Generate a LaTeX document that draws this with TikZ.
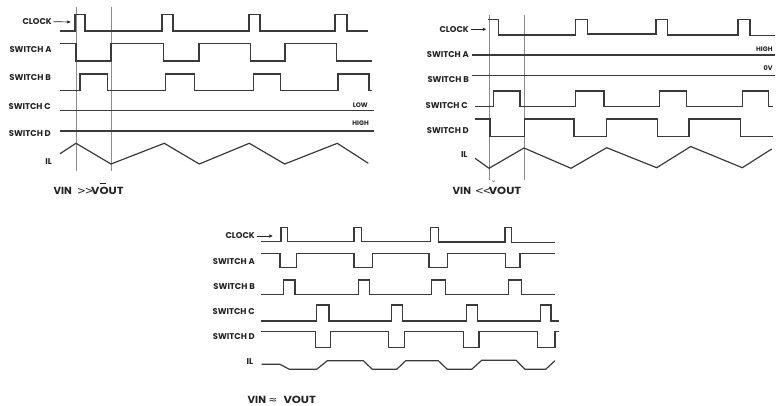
\documentclass[tikz,border=0pt]{standalone}
\usepackage{fontspec}
\usepackage{graphicx}
\setmainfont{Poppins}
\newfontfamily\symfont{DejaVu Sans}
\usetikzlibrary{arrows.meta}
\definecolor{wv}{HTML}{3A3A3A}
\definecolor{gl}{HTML}{8C8C8C}
\definecolor{tx}{HTML}{222222}
\newcommand{\thinsym}[2][10.5]{{\symfont\mdseries\fontsize{#1}{10}\selectfont #2}}
\newcommand{\wideword}[1]{\scalebox{1.12}[1]{#1}}
\tikzset{
  wave/.style={draw=wv,line width=1.2pt,line join=miter},
  guide/.style={draw=gl,line width=0.8pt},
  lab/.style={font=\fontsize{8.4}{9}\selectfont\bfseries,text=tx,inner sep=0pt,anchor=east},
  tag/.style={font=\fontsize{6.5}{7}\selectfont\bfseries,text=tx,inner sep=0pt,anchor=east},
  captxt/.style={font=\fontsize{10.3}{11}\selectfont\bfseries,text=tx,inner sep=0pt,anchor=base west},
  clkarrow/.style={draw=tx,line width=0.7pt,-{Latex[length=3.6pt,width=3.4pt]}}
}
\begin{document}
\begin{tikzpicture}[x=1pt,y=-1pt]
\useasboundingbox (0,0) rectangle (777,406);
% ---------------- Panel 1 ----------------
\draw[guide] (76,7) -- (76,171);
\draw[guide] (111,7) -- (111,171);
\node[lab] (p1clk) at (52,21.7) {CLOCK};
\coordinate (p1clkend) at (71,22);
\draw[clkarrow] (p1clk.east) ++(1.5pt,0) -- (p1clkend);
\node[lab] (p1a) at (51.7,50) {SWITCH A};
\node[lab] (p1b) at (51,77.7) {SWITCH B};
\node[lab] (p1c) at (51,106.7) {SWITCH C};
\node[lab] (p1d) at (51,133.3) {SWITCH D};
\node[lab] (p1il) at (52,161.7) {IL};
\node[tag] (p1low) at (368,105) {LOW};
\node[tag] (p1high) at (369,123.3) {HIGH};
\node[captxt] (p1cap) at (53.3,194.7) {\makebox[23.5pt][l]{VIN}\makebox[7.9pt][l]{\thinsym{>}}\makebox[6.3pt][l]{\thinsym{>}}\wideword{V\rlap{\hspace{0.6pt}\rule[11.4pt]{5.2pt}{0.7pt}}OUT}};
\draw[wave] (60,31) -| (75,14.5) -| (85,31) -| (162,14.5) -| (173,31) -| (249,14.5) -| (260,31) -| (335,14.5) -| (347,31) -- (368,31);
\draw[wave] (60,43.7) -| (76,61) -| (111,43.7) -| (163.3,61) -| (199,43.7) -| (250.7,61) -| (285,43.7) -| (336.3,61) -- (371.7,61);
\draw[wave] (60,90.7) -| (80,74) -| (107.7,90.7) -| (165.7,74) -| (194.5,90.7) -| (253.3,74) -| (280.7,90.7) -| (338,74) -| (369,90.7) -- (371.7,90.7);
\draw[wave] (60,110.7) -- (374,110.7);
\draw[wave] (60,131) -- (374,131);
\draw[wave] (60,153.7) -- (76,143.3) -- (111,164) -- (164.3,143.3) -- (199.3,164) -- (249.3,143.3) -- (284.7,164) -- (337.3,143.3) -- (368.3,163.3);
% ---------------- Panel 2 ----------------
\draw[guide] (489,15) -- (489,180);
\draw[guide] (524,15) -- (524,180);
\node[lab] (p2clk) at (469,29.3) {CLOCK};
\coordinate (p2clkend) at (486.5,29.3);
\draw[clkarrow] (p2clk.east) ++(1.5pt,0) -- (p2clkend);
\node[lab] (p2a) at (469,54.3) {SWITCH A};
\node[lab] (p2b) at (469,80) {SWITCH B};
\node[lab] (p2c) at (468,106) {SWITCH C};
\node[lab] (p2d) at (469,130.7) {SWITCH D};
\node[lab] (p2il) at (467.7,155) {IL};
\node[tag] (p2high) at (772.7,49.3) {HIGH};
\node[tag] (p2ov) at (772.7,67.7) {0V};
\node[captxt] (p2cap) at (452.5,194.7) {\makebox[22.3pt][l]{VIN}\makebox[7.5pt][l]{\thinsym{<}}\makebox[6.3pt][l]{\thinsym{<}}\wideword{\rlap{\hspace{2.6pt}\raisebox{8.2pt}{\symfont\bfseries\fontsize{7}{7}\selectfont ˘}}VOUT}};
\draw[wave] (488,19.3) -| (498.3,35) -| (575.7,19.3) -| (587.3,34) -| (656,19.3) -| (667.3,35) -| (738,19.3) -| (750,35.5) -- (775,35.5);
\draw[wave] (471.7,55) -- (775,55);
\draw[wave] (471.7,75.7) -- (775,75.7);
\draw[wave] (475,106.3) -| (493.3,91) -| (520,106.3) -| (575.7,91) -| (604,106.3) -| (659.3,91) -| (686.7,106.3) -| (742.7,91) -| (768.3,106.3) -- (773.3,106.3);
\draw[wave] (475,119) -| (490,136.7) -| (524.3,119) -| (574,136.7) -| (606.7,119) -| (657.3,136.7) -| (689,119) -| (740.3,136.7) -- (773.3,136.7);
\draw[wave] (475,158.3) -- (489,168.3) -- (524,148) -- (571,168.3) -- (606.7,147.7) -- (656.7,167.7) -- (690.7,146.5) -- (742.3,167.7) -- (771.7,149);
% ---------------- Panel 3 ----------------
\node[lab] (p3clk) at (255,236) {CLOCK};
\coordinate (p3clkend) at (273,236);
\draw[clkarrow] (p3clk.east) ++(1.5pt,0) -- (p3clkend);
\node[lab] (p3a) at (255,261.7) {SWITCH A};
\node[lab] (p3b) at (255,286.7) {SWITCH B};
\node[lab] (p3c) at (255,311.7) {SWITCH C};
\node[lab] (p3d) at (255,336.7) {SWITCH D};
\node[lab] (p3il) at (253.3,361.7) {IL};
\node[captxt] (p3cap) at (247.5,403.5) {\makebox[20.8pt][l]{VIN}\makebox[15pt][l]{\thinsym[10.5]{≈}}\wideword{VOUT}};
\draw[wave] (261,241.5) -| (281,227.3) -| (287.7,241.5) -| (354,227.3) -| (361.7,241.8) -| (430.7,227.3) -| (438.7,242) -| (505,227.3) -| (511.7,242.3) -- (555,242.3);
\draw[wave] (261,253.3) -| (280,267.7) -| (296.7,253.3) -| (354,267.7) -| (372.3,253.3) -| (429,267.7) -| (447.3,253.3) -| (505.3,267.7) -| (520,253.3) -- (555,253.3);
\draw[wave] (261,294.3) -| (283.3,280) -| (295,294.3) -| (358.3,280) -| (369.3,294.3) -| (431.7,280) -| (445.7,294.3) -| (508.3,280) -| (521.7,294.3) -- (555,294.3);
\draw[wave] (261,321) -| (316.7,305) -| (329,321) -| (391.7,305) -| (402.7,321) -| (466.7,305) -| (477.7,321) -| (540.7,305) -| (551,321) -- (559,321);
\draw[wave] (261,331.7) -| (315.7,347.7) -| (330.7,331.7) -| (388.3,347.7) -| (404.3,331.7) -| (463.3,347.7) -| (479,331.7) -| (537.3,347.7) -| (555,331.7) -- (559,331.7);
\draw[wave] (261.7,364.3) -- (280,364.3) -- (289.3,369.3) -- (316.7,369.3) -- (327.3,360.7) -- (363.3,360.7) -- (372.3,369.3) -- (396.7,369.3) -- (405.7,360.7) -- (438.3,360.7) -- (447.3,369.3) -- (471.7,369.3) -- (481.7,360.3) -- (516,360.3) -- (525,369.3) -- (545.7,369.3) -- (555,360.7);
\end{tikzpicture}
\end{document}
